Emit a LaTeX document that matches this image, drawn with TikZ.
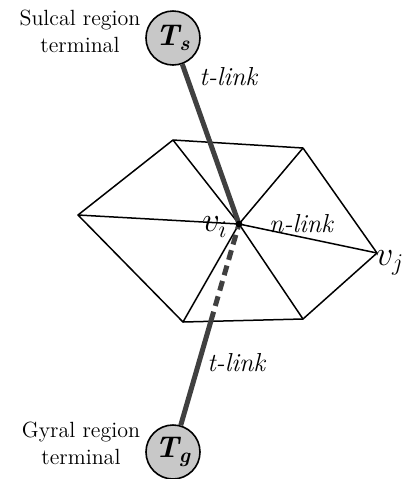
\documentclass[tikz,border=0pt]{standalone}
\usepackage{tikz}
\usetikzlibrary{arrows.meta,positioning,calc}
\definecolor{TermGray}{HTML}{C8C8C8}
\definecolor{LinkInk}{HTML}{404040}

\begin{document}
\begin{tikzpicture}[
    x=0.5pt, y=-0.5pt,
    terminal/.style={circle, draw=black, line width=0.8pt, fill=TermGray,
      minimum size=27pt, inner sep=0pt, font=\fontsize{15}{15}\selectfont\bfseries\itshape},
    caption/.style={align=center, font=\fontsize{11}{13.5}\selectfont},
    linklabel/.style={font=\fontsize{13}{14}\selectfont\itshape, inner sep=0pt},
    vlabel/.style={font=\fontsize{18}{18}\selectfont\itshape, inner sep=0pt},
    mesh/.style={line width=0.75pt, draw=black, line join=round},
    tlink/.style={line width=2.5pt, draw=LinkInk},
    hidden/.style={tlink, dash pattern=on 5pt off 3pt}
  ]
    \useasboundingbox (0,0) rectangle (409,479);
    % mesh vertices
    \coordinate (vi) at (239,224);
    \coordinate (vl) at (78,215);
    \coordinate (vtl) at (173,140);
    \coordinate (vtr) at (303,148);
    \coordinate (vj) at (377,253);
    \coordinate (vbr) at (303,319);
    \coordinate (vbl) at (183,322);
    % terminals
    \node[terminal] (Ts) at (173,38) {T\textsubscript{s}};
    \node[terminal] (Tg) at (173,452) {T\textsubscript{g}};
    \node[caption] (sulcal) at (80,31) {Sulcal region\\terminal};
    \node[caption] (gyral) at (81,443) {Gyral region\\terminal};
    % mesh
    \draw[mesh] (vl) -- (vtl) -- (vtr) -- (vj) -- (vbr) -- (vbl) -- cycle;
    \foreach \v in {vl,vtl,vtr,vbr,vbl}
      \draw[mesh] (vi) -- (\v);
    \draw[mesh] (vi) -- node[linklabel, above=2pt, pos=0.45] (nlink) {n-link} (vj);
    % t-links
    \coordinate (cut) at (intersection of Tg--vi and vbl--vbr);
    \draw[tlink] (Ts) -- node[linklabel, right=5pt, pos=0.08] (tlinks) {t-link} (vi);
    \draw[tlink] (Tg) -- node[linklabel, right=3pt, pos=0.6] (tlinkg) {t-link} (cut);
    \draw[hidden] (cut) -- (vi);
    \fill (vi) circle (1.7pt);
    % vertex labels
    \node[vlabel] (vilabel) at (215,227) {$v_i$};
    \node[vlabel] (vjlabel) at (390,263) {$v_j$};
  \end{tikzpicture}
\end{document}
